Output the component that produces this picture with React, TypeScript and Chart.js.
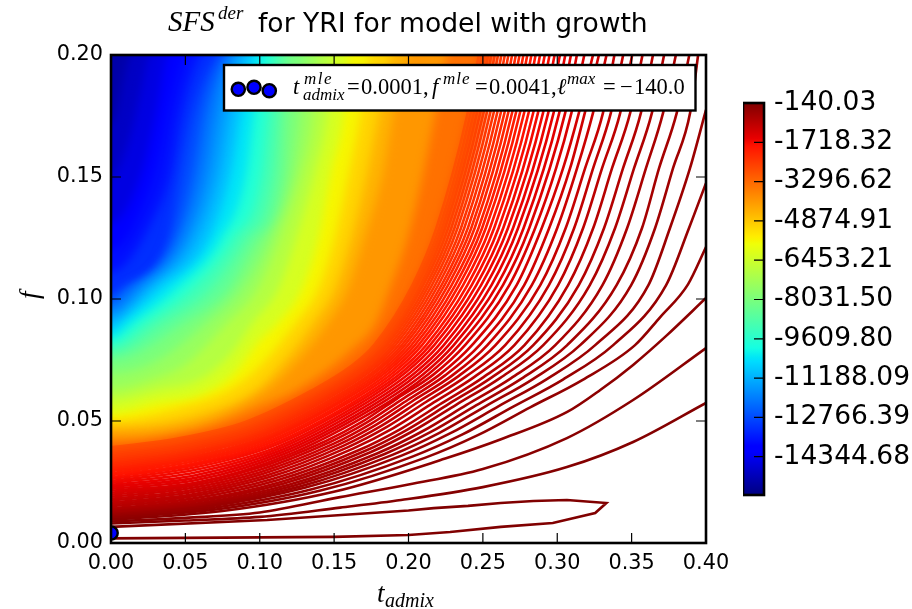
import React, { useEffect, useRef } from "react";
import { Chart, registerables } from "chart.js";

type Pair = [number, number];

// ---- data ----
const xTickStep = 0.05;
const yTickStep = 0.05;
const mlePoint: Pair = [0.0001, 0.0041];
const colorbarRange: [number, number] = [-15883, -140.03];
const colorbarTicks = [-140.03, -1718.32, -3296.62, -4874.91, -6453.21, -8031.5, -9609.8, -11188.09, -12766.39, -14344.68];

// closed contour round the maximum
const innerLoop: Pair[] = [[0,.0019],[.15,.0025],[.2,.0033],[.228,.0045],[.262,.0066],[.297,.0082],[.3255,.0123],[.333,.0164],[.3065,.0176],[.284,.0172],[.262,.0164],[.24,.0152],[.217,.0143],[.2,.0133],[.105,.0094],[0,.0066]];

// outer contours, nearest the maximum first
const nearLines: Pair[][] = [
  [[0,.008],[.05,.0092],[.1,.0107],[.154,.0145],[.195,.0176],[.25,.0229],[.3065,.0311],[.351,.0414],[.4,.0574]],
  [[0,.0088],[.05,.0103],[.1,.0125],[.154,.0188],[.2,.024],[.25,.0303],[.3065,.043],[.351,.0586],[.4,.0799]],
  [[0,.0095],[.0749,.0131],[.1498,.021],[.2247,.0346],[.2622,.0425],[.3067,.0537],[.3289,.0627],[.351,.073],[.3738,.0852],[.4,.1004]],
  [[0,.0102],[.0705,.0137],[.1409,.0215],[.2114,.035],[.2466,.0442],[.2818,.0556],[.3171,.0669],[.3523,.0811],[.3691,.0925],[.3879,.106],[.4,.1213]],
  [[0,.0108],[.0675,.0143],[.135,.022],[.2026,.0354],[.2363,.0445],[.2701,.0558],[.3038,.067],[.3376,.0811],[.3732,.1057],[.3886,.1291],[.4,.1475]],
  [[0,.0114],[.0651,.0149],[.1302,.0226],[.1953,.0358],[.2279,.0449],[.2604,.056],[.293,.0672],[.3255,.0811],[.3613,.1057],[.3758,.1291],[.3893,.1537],[.4,.1775]],
  [[0,.0119],[.0631,.0154],[.1262,.023],[.1892,.0361],[.2208,.0451],[.2523,.0562],[.2839,.0673],[.3154,.0811],[.3497,.1057],[.3658,.1291],[.3779,.1537],[.3893,.1762],[.3947,.2],[.396,.206]],
  [[0,.0125],[.0613,.0159],[.1227,.0235],[.184,.0365],[.2147,.0454],[.2454,.0564],[.276,.0674],[.3067,.0811],[.3399,.1057],[.357,.1291],[.3685,.1537],[.3803,.1762],[.3905,.205]],
  [[0,.013],[.0597,.0164],[.1195,.0239],[.1792,.0368],[.2091,.0457],[.239,.0566],[.2688,.0675],[.2987,.0811],[.3304,.1057],[.347,.1291],[.3597,.1537],[.3711,.1762],[.3815,.205]],
  [[0,.0136],[.0581,.017],[.1162,.0244],[.1744,.0372],[.2034,.046],[.2325,.0568],[.2615,.0676],[.2906,.0811],[.3219,.1057],[.3389,.1291],[.3517,.1537],[.3636,.1762],[.3735,.205]],
  [[0,.0142],[.0568,.0175],[.1136,.0249],[.1703,.0376],[.1987,.0463],[.2271,.057],[.2555,.0677],[.2839,.0811],[.3145,.1057],[.3315,.1291],[.3443,.1537],[.3562,.1762],[.366,.205]],
  [[0,.015],[.0556,.0183],[.1112,.0256],[.1668,.0381],[.1946,.0467],[.2224,.0573],[.2502,.0679],[.278,.0811],[.3073,.1057],[.3242,.1291],[.3369,.1537],[.349,.1762],[.359,.205]],
  [[0,.0158],[.0542,.0191],[.1085,.0262],[.1627,.0387],[.1898,.0471],[.217,.0576],[.2441,.068],[.2712,.0811],[.3006,.1057],[.3174,.1291],[.3302,.1537],[.3423,.1762],[.352,.205]],
  [[0,.0166],[.053,.0198],[.106,.0269],[.159,.0392],[.1855,.0476],[.212,.0579],[.2385,.0682],[.265,.0811],[.2944,.1057],[.3114,.1291],[.3242,.1537],[.336,.1762],[.346,.205]],
  [[0,.0174],[.0519,.0206],[.1038,.0276],[.1557,.0397],[.1817,.048],[.2076,.0582],[.2336,.0684],[.2585,.0811],[.2886,.1057],[.3057,.1291],[.3188,.1537],[.3307,.1762],[.34,.205]],
  [[0,.0182],[.0509,.0213],[.1018,.0283],[.1526,.0402],[.1781,.0484],[.2035,.0585],[.229,.0685],[.253,.0811],[.2829,.1057],[.3,.1291],[.3134,.1537],[.324,.1762],[.335,.205]],
  [[0,.019],[.0499,.0221],[.0998,.0289],[.1498,.0407],[.1747,.0488],[.1997,.0587],[.2246,.0687],[.2478,.0811],[.2778,.1057],[.2946,.1291],[.3087,.1537],[.3185,.1762],[.33,.205]],
  [[0,.0198],[.049,.0229],[.098,.0296],[.147,.0413],[.1715,.0492],[.196,.059],[.2205,.0688],[.2427,.0811],[.2727,.1057],[.2896,.1291],[.304,.1537],[.3145,.1762],[.326,.205]],
  [[0,.0206],[.0482,.0236],[.0963,.0303],[.1445,.0418],[.1686,.0496],[.1926,.0593],[.2167,.069],[.238,.0811],[.2678,.1057],[.2852,.1291],[.2993,.1537],[.3095,.1762],[.32,.205]],
];

// denser contours further out: crossings on shared columns and rows
const fLeft = [.0214,.0222,.023,.0238,.0246,.0254,.0262,.027,.0278,.0286,.0294,.0301,.0308,.0315,.0322,.0329,.0336,.0343,.035,.0357,.0364,.0371,.0378,.0385,.0392];
const quarterT = [.0593,.0584,.0575,.0567,.0559,.0551,.0544,.0537,.053,.0524,.0518,.0513,.0507,.0501,.0496,.0491,.0486,.0481,.0476,.0472,.0467,.0463,.0459,.0454,.045];
const quarterF = [.025,.0259,.0268,.0278,.0288,.0298,.0307,.0316,.0323,.0331,.0338,.0344,.0351,.0357,.0364,.037,.0376,.0383,.0389,.0396,.0402,.0408,.0415,.0421,.0428];
const lowT = [.1185,.1167,.115,.1134,.1117,.1102,.1088,.1075,.1061,.1049,.1037,.1025,.1014,.1003,.0993,.0982,.0972,.0962,.0953,.0943,.0935,.0926,.0917,.0908,.09];
const lowF = [.036,.0366,.0372,.0378,.0384,.039,.0397,.0403,.0409,.0415,.0421,.0426,.0431,.0437,.0442,.0447,.0452,.0458,.0463,.0468,.0474,.0479,.0484,.0489,.0495];
const midT = [.1778,.1751,.1725,.17,.1676,.1652,.1631,.1612,.1591,.1573,.1555,.1538,.152,.1504,.1489,.1473,.1457,.1443,.1429,.1415,.1402,.1388,.1376,.1362,.1349];
const midF = [.0545,.0549,.0552,.0556,.056,.0563,.0567,.057,.0574,.0577,.0581,.0584,.0587,.059,.0593,.0597,.06,.0603,.0606,.0609,.0612,.0615,.0618,.0621,.0625];
const highT = [.2133,.2101,.207,.204,.2011,.1983,.1958,.1934,.1909,.1887,.1866,.1845,.1824,.1805,.1787,.1768,.1749,.1732,.1715,.1697,.1682,.1666,.1651,.1634,.1619];
const highF = [.0692,.0693,.0695,.0696,.0698,.07,.0701,.0703,.0704,.0706,.0708,.0709,.071,.0712,.0713,.0715,.0716,.0717,.0719,.072,.0722,.0723,.0724,.0726,.0727];
const tAtF0811 = [.234,.2304,.227,.2237,.2204,.2173,.2145,.2119,.2091,.2067,.2043,.202,.1997,.1975,.1955,.1934,.1913,.1894,.1875,.1856,.1839,.1821,.1804,.1786,.1769];
const tAtF1057 = [.2635,.2596,.2558,.2522,.2488,.2456,.2425,.2396,.2367,.234,.2315,.229,.2266,.2243,.2222,.22,.2179,.2158,.2138,.2119,.2099,.2081,.2061,.2044,.2027];
const tAtF1291 = [.2812,.2774,.2737,.2703,.2669,.2637,.2606,.2576,.2548,.252,.2495,.2471,.2445,.2422,.2399,.2375,.2353,.233,.2309,.2288,.2267,.2246,.2227,.2208,.2188];
const tAtF1762 = [.3053,.3013,.2975,.2939,.2904,.287,.2838,.2807,.2777,.2749,.2722,.2696,.267,.2645,.262,.2596,.2572,.2549,.2526,.2504,.2482,.246,.2439,.2418,.2398];
const tAtF2050 = [.3148,.3108,.307,.3034,.2998,.2964,.2932,.29,.287,.2842,.2814,.2788,.2762,.2737,.2712,.2687,.2663,.264,.2617,.2595,.2572,.255,.2529,.2508,.2488];

// where the contours are too dense to separate: colour position (0..1) and its curve
const fieldLevels = [.82,.79,.75,.72,.685,.65,.61,.57,.535,.5,.465,.43,.39,.35,.31,.275,.24,.2,.17,.14,.11,.085,.06];
const fieldCurves: Pair[][] = [
  [[0,.0392],[.045,.0428],[.09,.0495],[.1349,.0625],[.1619,.0727],[.1769,.0811],[.2027,.1057],[.2188,.1291],[.2398,.1762],[.2488,.205]],
  [[0,.0417],[.06,.0465],[.1,.056],[.125,.0627],[.165,.0811],[.178,.0902],[.187,.1037],[.199,.1242],[.21,.1517],[.218,.1762],[.226,.2]],
  [[0,.0451],[.06,.0492],[.105,.0627],[.128,.0762],[.146,.0902],[.159,.1037],[.17,.1242],[.183,.1517],[.19,.1762],[.2,.2]],
  [[0,.0475],[.06,.0525],[.098,.0627],[.119,.0762],[.136,.0902],[.15,.1037],[.161,.1242],[.172,.1517],[.18,.1762],[.188,.2]],
  [[0,.0505],[.045,.0555],[.08,.063],[.1,.0725],[.124,.0902],[.139,.1037],[.15,.1242],[.16,.1517],[.168,.1762],[.174,.2]],
  [[0,.0533],[.03,.0574],[.06,.0608],[.083,.0697],[.1,.0832],[.112,.0902],[.128,.1037],[.139,.1242],[.1477,.1517],[.1564,.1762],[.1597,.2]],
  [[0,.0585],[.03,.0625],[.06,.0672],[.08,.0772],[.095,.0902],[.112,.1037],[.124,.1242],[.137,.1517],[.1455,.1762],[.149,.2]],
  [[0,.063],[.03,.0675],[.05,.0732],[.078,.0902],[.098,.1037],[.113,.1242],[.128,.1517],[.136,.1762],[.139,.2]],
  [[0,.0695],[.03,.0745],[.064,.0902],[.087,.1037],[.106,.1242],[.122,.1517],[.127,.1762],[.13,.2]],
  [[0,.075],[.049,.0902],[.0785,.1037],[.0985,.1242],[.116,.1517],[.118,.1762],[.12,.2]],
  [[0,.078],[.034,.0902],[.066,.1037],[.09,.1242],[.109,.1517],[.112,.1762],[.114,.2]],
  [[0,.081],[.023,.0902],[.053,.1037],[.081,.1242],[.101,.1517],[.105,.1762],[.109,.2]],
  [[0,.084],[.014,.0902],[.042,.1037],[.073,.1242],[.091,.1517],[.096,.1762],[.102,.2]],
  [[0,.0873],[.0067,.0902],[.0315,.1037],[.0651,.1242],[.0805,.1517],[.0872,.1762],[.0953,.2]],
  [[0,.0915],[.024,.1037],[.056,.1242],[.072,.1517],[.079,.1762],[.088,.2]],
  [[0,.095],[.018,.1037],[.049,.1242],[.064,.1517],[.071,.1762],[.082,.2]],
  [[0,.0985],[.01,.1037],[.043,.1242],[.056,.1517],[.063,.1762],[.077,.2]],
  [[0,.102],[.006,.1037],[.0383,.1242],[.047,.1517],[.055,.1762],[.0718,.2]],
  [[0,.111],[.03,.135],[.04,.1517],[.047,.1762],[.06,.2]],
  [[0,.12],[.025,.143],[.033,.16],[.04,.18],[.05,.2]],
  [[0,.131],[.02,.151],[.03,.1762],[.038,.2]],
  [[0,.15],[.012,.165],[.02,.185],[.026,.2]],
  [[0,.172],[.013,.2]],
];

// ---- styling ----
const SANS = "'DejaVu Sans'";
const SERIF = "'Liberation Serif'";
const LEVEL_COUNT = 250;

function jet(v: number): string {
  const clamp = (a: number) => Math.max(0, Math.min(1, a));
  const seg = (pts: number[][]) => {
    for (let i = 1; i < pts.length; i++) {
      if (v <= pts[i][0]) return pts[i - 1][1] + (pts[i][1] - pts[i - 1][1]) * (v - pts[i - 1][0]) / (pts[i][0] - pts[i - 1][0]);
    }
    return pts[pts.length - 1][1];
  };
  const r = seg([[0, 0], [.35, 0], [.66, 1], [.89, 1], [1, .5]]);
  const g = seg([[0, 0], [.125, 0], [.375, 1], [.64, 1], [.91, 0], [1, 0]]);
  const b = seg([[0, .5], [.11, 1], [.34, 1], [.65, 0], [1, 0]]);
  return `rgb(${Math.round(clamp(r) * 255)},${Math.round(clamp(g) * 255)},${Math.round(clamp(b) * 255)})`;
}

const toPts = (c: Pair[]) => c.map(([x, y]) => ({ x, y }));

function outerLine(i: number): Pair[] {
  return [
    [0, fLeft[i]], [quarterT[i], quarterF[i]], [lowT[i], lowF[i]], [midT[i], midF[i]], [highT[i], highF[i]],
    [tAtF0811[i], .0811], [tAtF1057[i], .1057], [tAtF1291[i], .1291], [tAtF1762[i], .1762], [tAtF2050[i], .205],
  ];
}

function fillSet(curve: Pair[], color: string) {
  const pts = [[-0.03, curve[0][1]] as Pair, ...curve, [0.5, 0.35] as Pair];
  return {
    data: toPts(pts), showLine: true, pointRadius: 0, borderWidth: 0,
    fill: { value: -0.03 }, backgroundColor: color, blurFill: true,
    cubicInterpolationMode: "monotone",
  };
}

function lineSet(curve: Pair[], k: number, smooth: boolean) {
  return {
    data: toPts(curve), showLine: true, pointRadius: 0, borderWidth: 2.6,
    borderColor: jet(1 - k / LEVEL_COUNT), fill: false,
    cubicInterpolationMode: smooth ? "monotone" : "default", tension: 0,
  };
}

const blurPlugin = {
  id: "blurFill",
  beforeDatasetDraw(chart: any, args: any) {
    if (chart.data.datasets[args.index].blurFill) {
      chart.ctx.save();
      chart.ctx.filter = "blur(5px)";
    }
  },
  afterDatasetDraw(chart: any, args: any) {
    if (chart.data.datasets[args.index].blurFill) chart.ctx.restore();
  },
};
Chart.register(blurPlugin);
Chart.register(...registerables);

function put(ctx: any, text: string, x: number, y: number, font: string, spacing = "0px") {
  ctx.font = font;
  ctx.letterSpacing = spacing;
  ctx.fillText(text, x, y);
  ctx.letterSpacing = "0px";
}

const decorations = {
  id: "decorations",
  afterDatasetsDraw(chart: any) {
    const { ctx, chartArea: a, scales } = chart;
    ctx.save();
    ctx.strokeStyle = "#000";
    ctx.lineWidth = 1.2;
    const L = 10;
    ctx.beginPath();
    for (const t of scales.x.ticks) {
      const px = scales.x.getPixelForValue(t.value);
      ctx.moveTo(px, a.bottom); ctx.lineTo(px, a.bottom - L);
      ctx.moveTo(px, a.top); ctx.lineTo(px, a.top + L);
    }
    for (const t of scales.y.ticks) {
      const py = scales.y.getPixelForValue(t.value);
      ctx.moveTo(a.left, py); ctx.lineTo(a.left + L, py);
      ctx.moveTo(a.right, py); ctx.lineTo(a.right - L, py);
    }
    ctx.stroke();
    ctx.lineWidth = 2.6;
    ctx.strokeRect(a.left, a.top, a.right - a.left, a.bottom - a.top);

    // legend box
    ctx.fillStyle = "#fff";
    ctx.fillRect(224, 65, 471.5, 45.5);
    ctx.lineWidth = 2.4;
    ctx.strokeRect(224, 65, 471.5, 45.5);
    for (const [cx, cy] of [[238.3, 89.3], [254, 87.3], [269.3, 90.7]]) {
      ctx.beginPath();
      ctx.arc(cx, cy, 6.6, 0, Math.PI * 2);
      ctx.fillStyle = "#0000ff";
      ctx.fill();
      ctx.lineWidth = 2.4;
      ctx.stroke();
    }
    ctx.fillStyle = "#000";
    ctx.textBaseline = "alphabetic";
    ctx.textAlign = "left";
    const big = `22.5px ${SERIF}`;
    const bigI = `italic 22.5px ${SERIF}`;
    const small = `italic 17px ${SERIF}`;
    put(ctx, "t", 293, 94, bigI);
    put(ctx, "mle", 304, 84, small, "1.5px");
    put(ctx, "admix", 303, 100, small);
    put(ctx, "=", 347, 94, big);
    put(ctx, "0.0001,", 361, 94, big);
    put(ctx, "f", 432, 94, bigI);
    put(ctx, "mle", 443, 84, small, "1px");
    put(ctx, "=", 475, 94, big);
    put(ctx, "0.0041,", 489, 94, big);
    put(ctx, "\u2113", 557, 94, bigI);
    put(ctx, "max", 567, 84, small);
    put(ctx, "=", 603, 94, big);
    put(ctx, "\u2212", 620, 94, big);
    put(ctx, "140.0", 634, 94, big);

    // title
    put(ctx, "SFS", 168, 31, `italic 29px ${SERIF}`);
    put(ctx, "der", 218, 19, `italic 19px ${SERIF}`);
    put(ctx, "for YRI for model with growth", 258, 32, `26.6px ${SANS}`);

    // axis labels
    put(ctx, "t", 377, 602, `italic 27px ${SERIF}`);
    put(ctx, "admix", 385, 607, `italic 20px ${SERIF}`);
    ctx.translate(38, 299);
    ctx.rotate(-Math.PI / 2);
    put(ctx, "f", 0, 0, `italic 27px ${SERIF}`);
    ctx.restore();
  },
};

const barFrame = {
  id: "barFrame",
  afterDatasetsDraw(chart: any) {
    const { ctx, chartArea: a, scales } = chart;
    ctx.save();
    ctx.strokeStyle = "#000";
    ctx.lineWidth = 1.2;
    ctx.beginPath();
    for (const t of scales.y.ticks) {
      const py = scales.y.getPixelForValue(t.value);
      ctx.moveTo(a.right, py); ctx.lineTo(a.right - 10, py);
    }
    ctx.stroke();
    ctx.lineWidth = 2.6;
    ctx.strokeRect(a.left, a.top, a.right - a.left, a.bottom - a.top);
    ctx.restore();
  },
};

export default function App() {
  const mainRef = useRef<HTMLCanvasElement>(null);
  const barRef = useRef<HTMLCanvasElement>(null);

  useEffect(() => {
    const tickFont = { family: SANS, size: 20.8 };
    const outerCount = fLeft.length;
    const fillSets: any[] = [];
    fillSets.push(fillSet(outerLine(18), "#ffffff"));
    fieldCurves.forEach((c, i) => fillSets.push(fillSet(c, jet(fieldLevels[i]))));
    const base = fillSet([[0, .3], [.4, .34]], jet(.035));

    const lineSets: any[] = [lineSet(innerLoop, 0, false)];
    nearLines.forEach((c, i) => lineSets.push(lineSet(c, i + 1, true)));
    for (let i = 0; i < outerCount; i++) lineSets.push(lineSet(outerLine(i), i + 20, true));

    const marker = {
      data: [{ x: mlePoint[0], y: mlePoint[1] }],
      pointRadius: 6.6, pointBorderWidth: 2.4, pointBackgroundColor: "#0000ff", pointBorderColor: "#000",
      showLine: false,
    };

    const main = new Chart(mainRef.current!, {
      type: "scatter",
      data: { datasets: [marker, ...lineSets, ...fillSets, base] as any },
      options: {
        responsive: false, animation: false, events: [],
        layout: { padding: { top: 55, right: 206, left: 0, bottom: 0 } },
        plugins: { legend: { display: false }, tooltip: { enabled: false }, title: { display: false } },
        scales: {
          x: {
            type: "linear", min: 0, max: 0.4,
            grid: { display: false, drawTicks: false }, border: { display: false },
            afterFit: (s: any) => { s.height = 66; },
            ticks: { stepSize: xTickStep, color: "#000", font: tickFont, padding: 8, maxRotation: 0, callback: (v: any) => Number(v).toFixed(2) },
          },
          y: {
            type: "linear", min: 0, max: 0.2,
            grid: { display: false, drawTicks: false }, border: { display: false },
            afterFit: (s: any) => { s.width = 111; },
            ticks: { stepSize: yTickStep, color: "#000", font: tickFont, padding: 8, callback: (v: any) => Number(v).toFixed(2) },
          },
        },
      } as any,
      plugins: [decorations],
    });

    const ctx = barRef.current!.getContext("2d")!;
    const grad = ctx.createLinearGradient(0, 495, 0, 103);
    for (const s of [0, .11, .125, .34, .35, .375, .5, .64, .65, .66, .89, .91, 1]) grad.addColorStop(s, jet(s));

    const bar = new Chart(barRef.current!, {
      type: "bar",
      data: {
        labels: ["levels"],
        datasets: [{ data: [colorbarRange] as any, backgroundColor: grad, barPercentage: 1, categoryPercentage: 1, borderWidth: 0 }],
      },
      options: {
        responsive: false, animation: false, events: [],
        layout: { padding: { top: 103, bottom: 114, left: 0, right: 0 } },
        plugins: { legend: { display: false }, tooltip: { enabled: false } },
        scales: {
          x: { display: false, grid: { display: false } },
          y: {
            position: "right", min: colorbarRange[0], max: colorbarRange[1],
            grid: { display: false, drawTicks: false }, border: { display: false },
            afterBuildTicks: (s: any) => { s.ticks = colorbarTicks.map((value) => ({ value })); },
            afterFit: (s: any) => { s.width = 148; },
            ticks: { autoSkip: false, color: "#000", font: { family: SANS, size: 26.5 }, padding: 10, callback: (v: any) => Number(v).toFixed(2) },
          },
        },
      } as any,
      plugins: [barFrame],
    });

    return () => { main.destroy(); bar.destroy(); };
  }, []);

  return (
    <div style={{ position: "absolute", left: 0, top: 0, width: 912, height: 609, overflow: "hidden", background: "#fff" }}>
      <canvas ref={mainRef} width={912} height={609} style={{ position: "absolute", left: 0, top: 0, display: "block" }} />
      <canvas ref={barRef} width={169} height={609} style={{ position: "absolute", left: 743, top: 0, display: "block" }} />
    </div>
  );
}
